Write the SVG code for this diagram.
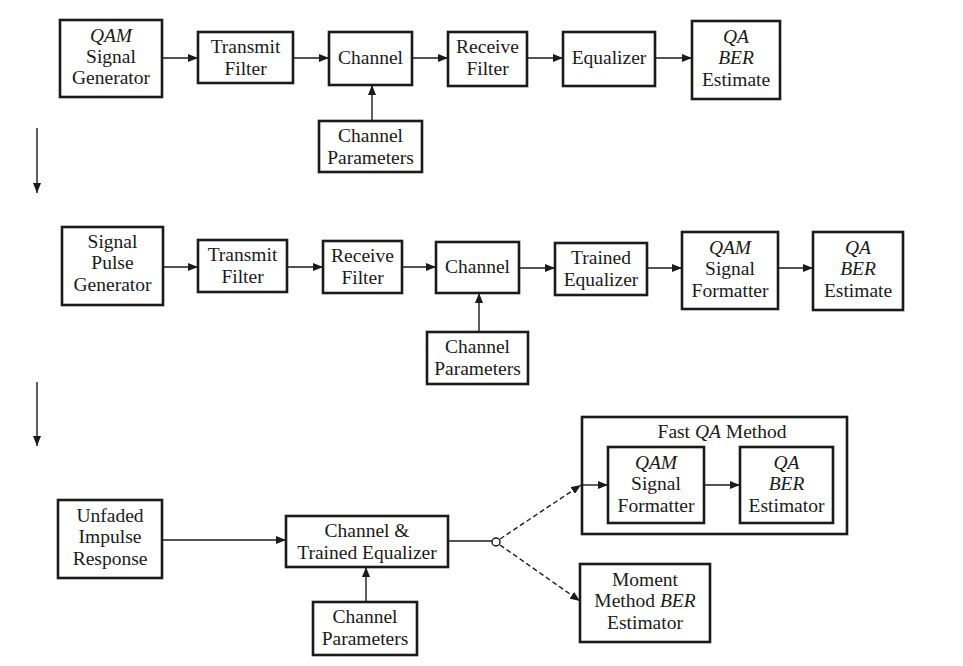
<svg xmlns="http://www.w3.org/2000/svg" width="963" height="666" viewBox="0 0 963 666">
<style>
.box{fill:#fff;stroke:#1a1a1a;stroke-width:2.6}
.frame{fill:none;stroke:#1a1a1a;stroke-width:2.6}
.ln{fill:none;stroke:#1a1a1a;stroke-width:1.4}
.dash{fill:none;stroke:#1a1a1a;stroke-width:1.4;stroke-dasharray:5 3}
text{font-family:"Liberation Serif","Times New Roman",serif;font-size:19.5px;fill:#1a1a1a;text-anchor:middle}
.i{font-style:italic}
</style>
<defs>
<marker id="ah" markerUnits="userSpaceOnUse" markerWidth="10" markerHeight="8" refX="10" refY="4" orient="auto">
<path d="M0,0 L10,4 L0,8 z" fill="#1a1a1a"/>
</marker>
</defs>
<rect width="963" height="666" fill="#fff"/>

<g id="fastqa"><rect class="frame" x="582" y="417" width="265" height="117"/>
<text x="722" y="438">Fast <tspan class="i">QA</tspan> Method</text></g>

<g id="connectors">
<line class="ln" x1="162" y1="58" x2="198" y2="58" marker-end="url(#ah)"/>
<line class="ln" x1="293" y1="58" x2="329" y2="58" marker-end="url(#ah)"/>
<line class="ln" x1="412" y1="58" x2="448" y2="58" marker-end="url(#ah)"/>
<line class="ln" x1="527" y1="58" x2="563" y2="58" marker-end="url(#ah)"/>
<line class="ln" x1="655" y1="58" x2="692" y2="58" marker-end="url(#ah)"/>
<line class="ln" x1="372" y1="121" x2="372" y2="85" marker-end="url(#ah)"/>
<line class="ln" x1="37" y1="128" x2="37" y2="193" marker-end="url(#ah)"/>

<line class="ln" x1="163" y1="267" x2="198" y2="267" marker-end="url(#ah)"/>
<line class="ln" x1="287" y1="267" x2="323" y2="267" marker-end="url(#ah)"/>
<line class="ln" x1="402" y1="267" x2="436" y2="267" marker-end="url(#ah)"/>
<line class="ln" x1="519" y1="268" x2="555" y2="268" marker-end="url(#ah)"/>
<line class="ln" x1="647" y1="268" x2="682" y2="268" marker-end="url(#ah)"/>
<line class="ln" x1="778" y1="268" x2="813" y2="268" marker-end="url(#ah)"/>
<line class="ln" x1="479" y1="332" x2="479" y2="293" marker-end="url(#ah)"/>
<line class="ln" x1="37" y1="382" x2="37" y2="446" marker-end="url(#ah)"/>

<line class="ln" x1="162" y1="540" x2="286" y2="540" marker-end="url(#ah)"/>
<line class="ln" x1="366" y1="602" x2="366" y2="567" marker-end="url(#ah)"/>
<line class="ln" x1="448" y1="541" x2="492" y2="541"/>
<circle cx="496" cy="542" r="4" fill="#fff" stroke="#1a1a1a" stroke-width="1.4"/>
<line class="dash" x1="500" y1="539" x2="581" y2="485" marker-end="url(#ah)"/>
<line class="dash" x1="500" y1="545" x2="580" y2="601" marker-end="url(#ah)"/>
<line class="ln" x1="582" y1="485" x2="608" y2="485" marker-end="url(#ah)"/>
<line class="ln" x1="704" y1="485" x2="740" y2="485" marker-end="url(#ah)"/>
</g>

<g id="qam-gen"><rect class="box" x="60" y="20" width="102" height="77"/>
<text x="111" y="42" class="i">QAM</text><text x="111" y="63">Signal</text><text x="111" y="84">Generator</text></g>
<g id="tx1"><rect class="box" x="198" y="32" width="95" height="51"/>
<text x="245.5" y="53">Transmit</text><text x="245.5" y="75">Filter</text></g>
<g id="ch1"><rect class="box" x="329" y="32" width="83" height="53"/>
<text x="370.5" y="64">Channel</text></g>
<g id="cp1"><rect class="box" x="319" y="121" width="103" height="51"/>
<text x="370.5" y="142">Channel</text><text x="370.5" y="164">Parameters</text></g>
<g id="rx1"><rect class="box" x="448" y="32" width="79" height="54"/>
<text x="487.5" y="53">Receive</text><text x="487.5" y="75">Filter</text></g>
<g id="eq1"><rect class="box" x="563" y="32" width="92" height="54"/>
<text x="609" y="64">Equalizer</text></g>
<g id="ber1"><rect class="box" x="692" y="21" width="88" height="78"/>
<text x="736" y="43" class="i">QA</text><text x="736" y="64" class="i">BER</text><text x="736" y="86">Estimate</text></g>

<g id="pulse-gen"><rect class="box" x="62" y="227" width="101" height="78"/>
<text x="112.5" y="248">Signal</text><text x="112.5" y="269">Pulse</text><text x="112.5" y="291">Generator</text></g>
<g id="tx2"><rect class="box" x="198" y="240" width="89" height="52"/>
<text x="242.5" y="261">Transmit</text><text x="242.5" y="283">Filter</text></g>
<g id="rx2"><rect class="box" x="323" y="241" width="79" height="52"/>
<text x="362.5" y="262">Receive</text><text x="362.5" y="284">Filter</text></g>
<g id="ch2"><rect class="box" x="436" y="242" width="83" height="51"/>
<text x="477.5" y="273">Channel</text></g>
<g id="cp2"><rect class="box" x="427" y="332" width="101" height="52"/>
<text x="477.5" y="353">Channel</text><text x="477.5" y="375">Parameters</text></g>
<g id="teq2"><rect class="box" x="555" y="243" width="92" height="52"/>
<text x="601" y="264">Trained</text><text x="601" y="286">Equalizer</text></g>
<g id="fmt2"><rect class="box" x="682" y="232" width="96" height="77"/>
<text x="730" y="254" class="i">QAM</text><text x="730" y="275">Signal</text><text x="730" y="297">Formatter</text></g>
<g id="ber2"><rect class="box" x="813" y="232" width="90" height="78"/>
<text x="858" y="254" class="i">QA</text><text x="858" y="275" class="i">BER</text><text x="858" y="297">Estimate</text></g>

<g id="unfaded"><rect class="box" x="58" y="500" width="104" height="78"/>
<text x="110" y="522">Unfaded</text><text x="110" y="543">Impulse</text><text x="110" y="565">Response</text></g>
<g id="chteq"><rect class="box" x="286" y="516" width="162" height="51"/>
<text x="367" y="537">Channel &amp;</text><text x="367" y="559">Trained Equalizer</text></g>
<g id="cp3"><rect class="box" x="313" y="602" width="104" height="53"/>
<text x="365" y="623">Channel</text><text x="365" y="645">Parameters</text></g>
<g id="fmt3"><rect class="box" x="608" y="447" width="96" height="76"/>
<text x="656" y="469" class="i">QAM</text><text x="656" y="490">Signal</text><text x="656" y="512">Formatter</text></g>
<g id="ber3"><rect class="box" x="740" y="447" width="93" height="76"/>
<text x="786.5" y="469" class="i">QA</text><text x="786.5" y="490" class="i">BER</text><text x="786.5" y="512">Estimator</text></g>
<g id="moment"><rect class="box" x="580" y="564" width="130" height="78"/>
<text x="645" y="586">Moment</text><text x="645" y="607">Method <tspan class="i">BER</tspan></text><text x="645" y="629">Estimator</text></g>
</svg>
